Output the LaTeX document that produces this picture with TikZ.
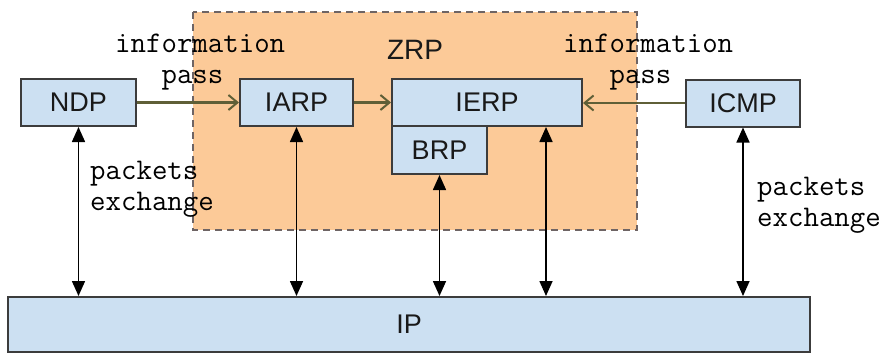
\documentclass[tikz,border=0pt]{standalone}
\usepackage{fontspec}
\setmainfont{Liberation Sans}
\usetikzlibrary{arrows.meta}
\definecolor{boxfill}{RGB}{204,224,242}
\definecolor{boxline}{RGB}{60,60,60}
\definecolor{zrpfill}{RGB}{252,202,152}
\definecolor{zrpline}{RGB}{110,100,100}
\definecolor{passline}{RGB}{95,95,55}
\begin{document}
\begin{tikzpicture}[x=1pt,y=-1pt,
  proto/.style={draw=boxline, line width=2pt, fill=boxfill, inner sep=0pt,
    font=\fontsize{27}{30}\selectfont, text=black!90},
  zone/.style={draw=zrpline, line width=2pt, dash pattern=on 7pt off 5pt, fill=zrpfill},
  passarrow/.style={draw=passline, line width=2.5pt, -{Straight Barb[length=9pt,width=15pt,line width=2pt]}},
  xarrow/.style={draw=black, line width=1.6pt, {Triangle[length=15pt,width=13pt]}-{Triangle[length=15pt,width=13pt]}},
  note/.style={font=\ttfamily\fontsize{30}{31}\selectfont, align=left, inner sep=0pt, text=black}]
\useasboundingbox (0,0) rectangle (885,354);
\fill[white] (0,0) rectangle (885,354);
% ZRP zone
\draw[zone] (193,12) rectangle (637,230);
\node[font=\fontsize{28}{30}\selectfont, text=black!90] (zrp) at (415,50) {ZRP};
% boxes
\node[proto, minimum width=115pt, minimum height=47pt] (ndp) at (78.5,102.5) {NDP};
\node[proto, minimum width=113pt, minimum height=47pt] (iarp) at (296.5,102.5) {IARP};
\node[proto, minimum width=190pt, minimum height=47pt] (ierp) at (487,102.5) {IERP};
\node[proto, minimum width=95pt, minimum height=48pt] (brp) at (439.5,150) {BRP};
\node[proto, minimum width=114pt, minimum height=47pt] (icmp) at (743,103) {ICMP};
\node[proto, minimum width=802pt, minimum height=55pt] (ip) at (409,324.5) {IP};
% information pass arrows
\draw[passarrow] (ndp.east) -- (iarp.west);
\draw[passarrow] (iarp.east) -- (iarp.east -| ierp.west);
\draw[passarrow] (icmp.west) -- (icmp.west -| ierp.east);
% packet exchange arrows
\coordinate (ierpx) at ([xshift=-37pt]ierp.south east);
\draw[xarrow] (ndp.south) -- (ndp.south |- ip.north);
\draw[xarrow] (iarp.south) -- (iarp.south |- ip.north);
\draw[xarrow] (brp.south) -- (brp.south |- ip.north);
\draw[xarrow] (ierpx) -- (ierpx |- ip.north);
\draw[xarrow] (icmp.south) -- (icmp.south |- ip.north);
% labels
\node[note, anchor=north west] (info1) at (115,34) {information\\\hphantom{aaa}pass};
\node[note, anchor=north west] (info2) at (563,34) {information\\\hphantom{aaa}pass};
\node[note, anchor=north west] (pkt1) at (90,161) {packets\\exchange};
\node[note, anchor=north west] (pkt2) at (757,177) {packets\\exchange};
\end{tikzpicture}
\end{document}
